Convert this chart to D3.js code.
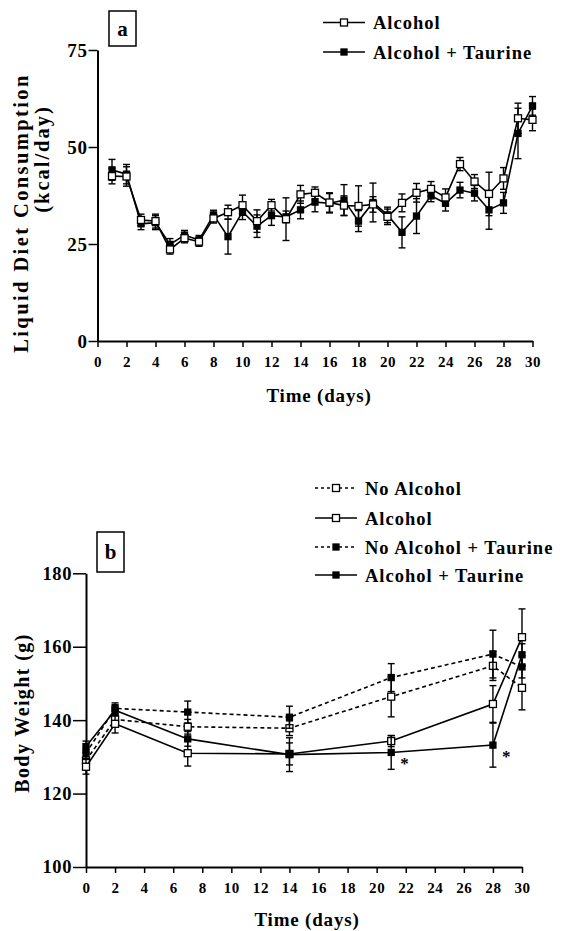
<!DOCTYPE html>
<html>
<head>
<meta charset="utf-8">
<script src="https://cdn.jsdelivr.net/npm/d3@7"></script>
<style>
  body { margin: 0; background: #fff; }
  svg text { font-family: "Liberation Serif", "Times New Roman", serif; font-weight: bold; fill: #000; }
</style>
</head>
<body>
<div id="chart"></div>
<script>
// panel a : liquid diet consumption (kcal/day)
const daysA = [1,2,3,4,5,6,7,8,9,10,11,12,13,14,15,16,17,18,19,20,21,22,23,24,25,26,27,28,29,30];
const alcoholA = [42.5,42.4,31.2,30.9,23.6,26.5,25.6,31.6,33.2,35.0,30.9,35.0,31.4,37.8,38.2,35.7,34.9,34.8,35.2,32.0,35.6,38.2,39.2,37.0,45.6,41.1,37.9,41.9,57.4,57.0];
const alcoholAErr = [2.0,2.5,1.5,1.8,1.2,1.2,1.2,1.2,1.8,2.6,2.9,1.5,5.5,2.3,1.5,2.5,2.5,5.2,2.0,2.0,2.3,2.4,1.9,2.2,1.7,1.8,5.6,2.8,3.9,2.8];
const taurineA = [44.1,43.0,30.2,30.5,24.9,27.3,26.0,32.5,26.9,33.3,29.6,32.3,32.0,33.8,35.8,35.5,36.3,30.9,35.7,32.5,28.0,32.2,37.4,35.5,38.9,38.1,33.8,35.6,53.5,60.6];
const taurineAErr = [2.7,2.5,1.5,1.8,1.5,1.2,1.2,1.2,4.5,2.0,2.9,2.5,1.5,2.3,2.5,2.5,4.0,2.7,5.0,2.0,4.0,4.5,1.5,2.0,2.0,2.0,5.0,2.7,6.5,2.4];
const ticksAY = [0, 25, 50, 75];

// panel b : body weight (g)
const daysB = [0, 2, 7, 14, 21, 28, 30];
const noAlcB = [129.0,140.2,138.2,137.8,146.4,154.8,148.8];
const noAlcBErr = [2.0,1.5,2.0,2.0,5.5,4.0,6.0];
const alcB = [127.3,139.0,131.0,130.8,134.3,144.4,162.6];
const alcBErr = [2.0,2.5,3.5,3.0,1.5,5.0,7.7];
const noAlcTauB = [131.0,143.2,142.2,140.8,151.6,158.0,154.5];
const noAlcTauBErr = [1.5,1.5,3.0,3.0,3.8,6.5,3.0];
const alcTauB = [132.8,142.7,134.9,130.6,131.2,133.2,157.8];
const alcTauBErr = [1.5,1.5,2.0,4.6,4.6,6.0,3.0];
const starDays = [21, 28];
const ticksBY = [100, 120, 140, 160, 180];

const ticksX = d3.range(0, 31, 2);

const svg = d3.select("#chart").append("svg")
  .attr("width", 563)
  .attr("height", 931);

// draws one series: line, error bars, markers
function series(g, x, y, days, vals, errs, filled, dashed) {
  const pts = days.map((d, i) => ({d: d, v: vals[i], e: errs[i]}));
  g.append("path")
    .datum(pts)
    .attr("fill", "none")
    .attr("stroke", "#000")
    .attr("stroke-width", 1.6)
    .attr("stroke-dasharray", dashed ? "4,3" : null)
    .attr("d", d3.line().x(p => x(p.d)).y(p => y(p.v)));

  const eb = g.append("g").attr("stroke", "#000").attr("stroke-width", 1.4);
  pts.forEach(p => {
    const cx = x(p.d);
    eb.append("line").attr("x1", cx).attr("x2", cx).attr("y1", y(p.v - p.e)).attr("y2", y(p.v + p.e));
    eb.append("line").attr("x1", cx - 3.5).attr("x2", cx + 3.5).attr("y1", y(p.v + p.e)).attr("y2", y(p.v + p.e));
    eb.append("line").attr("x1", cx - 3.5).attr("x2", cx + 3.5).attr("y1", y(p.v - p.e)).attr("y2", y(p.v - p.e));
  });

  const s = filled ? 6 : 7;
  g.selectAll(null).data(pts).enter().append("rect")
    .attr("x", p => x(p.d) - s / 2)
    .attr("y", p => y(p.v) - s / 2)
    .attr("width", s)
    .attr("height", s)
    .attr("fill", filled ? "#000" : "#fff")
    .attr("stroke", "#000")
    .attr("stroke-width", 1.3);
}

function axes(x, y, yTicks, yTickSize, yFont) {
  const gx = svg.append("g")
    .attr("transform", "translate(0," + y.range()[0] + ")")
    .call(d3.axisBottom(x).tickValues(ticksX).tickSize(6).tickSizeOuter(0).tickPadding(9));
  gx.select(".domain").attr("stroke-width", 2);
  gx.selectAll(".tick line").attr("stroke-width", 1.5);
  gx.selectAll("text").attr("font-size", 15).attr("letter-spacing", 0.6);

  const gy = svg.append("g")
    .attr("transform", "translate(" + x.range()[0] + ",0)")
    .call(d3.axisLeft(y).tickValues(yTicks).tickSize(yTickSize).tickSizeOuter(0).tickPadding(1));
  gy.select(".domain").attr("stroke-width", 2);
  gy.selectAll(".tick line").attr("stroke-width", 1.5);
  gy.selectAll("text").attr("font-size", yFont).attr("letter-spacing", 0.6);
}

function legend(rows, x0, yRows) {
  rows.forEach((r, i) => {
    const g = svg.append("g").attr("transform", "translate(" + x0 + "," + yRows[i] + ")");
    g.append("line").attr("x1", 0).attr("x2", 42).attr("y1", 0).attr("y2", 0)
      .attr("stroke", "#000").attr("stroke-width", 1.6)
      .attr("stroke-dasharray", r.dashed ? "3,3" : null);
    const s = r.filled ? 6 : 7;
    g.append("rect").attr("x", 21 - s / 2).attr("y", -s / 2).attr("width", s).attr("height", s)
      .attr("fill", r.filled ? "#000" : "#fff").attr("stroke", "#000").attr("stroke-width", 1.3);
    g.append("text").attr("x", 50).attr("y", 6.5)
      .attr("font-size", 18.5).attr("letter-spacing", 1.0)
      .text(r.name);
  });
}

function panelBox(label, x0, y0, w, h) {
  svg.append("rect").attr("x", x0).attr("y", y0).attr("width", w).attr("height", h)
    .attr("fill", "#fff").attr("stroke", "#000").attr("stroke-width", 1.5);
  svg.append("text").attr("x", x0 + w / 2).attr("y", y0 + h / 2 + 7)
    .attr("text-anchor", "middle").attr("font-size", 21).text(label);
}

// ---------- panel a ----------
const xA = d3.scaleLinear().domain([0, 30]).range([97.5, 532.5]);
const yA = d3.scaleLinear().domain([0, 75]).range([341, 50]);
axes(xA, yA, ticksAY, 9, 19);

const gA = svg.append("g");
series(gA, xA, yA, daysA, taurineA, taurineAErr, true, false);
series(gA, xA, yA, daysA, alcoholA, alcoholAErr, false, false);

svg.append("text")
  .attr("transform", "translate(28,213) rotate(-90)")
  .attr("text-anchor", "middle").attr("font-size", 20.5).attr("letter-spacing", 2.4)
  .text("Liquid Diet Consumption");
svg.append("text")
  .attr("transform", "translate(49,159) rotate(-90)")
  .attr("text-anchor", "middle").attr("font-size", 20.5).attr("letter-spacing", 2)
  .text("(kcal/day)");
svg.append("text").attr("x", 319).attr("y", 402)
  .attr("text-anchor", "middle").attr("font-size", 19).attr("letter-spacing", 0.8)
  .text("Time (days)");

panelBox("a", 109, 11, 27, 35);
legend([
  {name: "Alcohol", filled: false, dashed: false},
  {name: "Alcohol + Taurine", filled: true, dashed: false}
], 323, [22.5, 52]);

// ---------- panel b ----------
const xB = d3.scaleLinear().domain([0, 30]).range([86, 522]);
const yB = d3.scaleLinear().domain([100, 180]).range([867, 573.3]);
axes(xB, yB, ticksBY, 13, 18.5);

const gB = svg.append("g");
series(gB, xB, yB, daysB, noAlcB, noAlcBErr, false, true);
series(gB, xB, yB, daysB, noAlcTauB, noAlcTauBErr, true, true);
series(gB, xB, yB, daysB, alcB, alcBErr, false, false);
series(gB, xB, yB, daysB, alcTauB, alcTauBErr, true, false);

starDays.forEach(d => {
  const i = daysB.indexOf(d);
  svg.append("text").attr("x", xB(d) + 9).attr("y", yB(alcTauB[i]) + 17)
    .attr("font-size", 17).attr("font-weight", "normal").style("fill", "#000").text("*");
});

svg.append("text")
  .attr("transform", "translate(29,713) rotate(-90)")
  .attr("text-anchor", "middle").attr("font-size", 20).attr("letter-spacing", 1.4)
  .text("Body Weight (g)");
svg.append("text").attr("x", 307).attr("y", 926)
  .attr("text-anchor", "middle").attr("font-size", 19).attr("letter-spacing", 0.8)
  .text("Time (days)");

panelBox("b", 97, 532, 27, 40);
legend([
  {name: "No Alcohol", filled: false, dashed: true},
  {name: "Alcohol", filled: false, dashed: false},
  {name: "No Alcohol + Taurine", filled: true, dashed: true},
  {name: "Alcohol + Taurine", filled: true, dashed: false}
], 315, [488, 518, 547, 575]);
</script>
</body>
</html>
